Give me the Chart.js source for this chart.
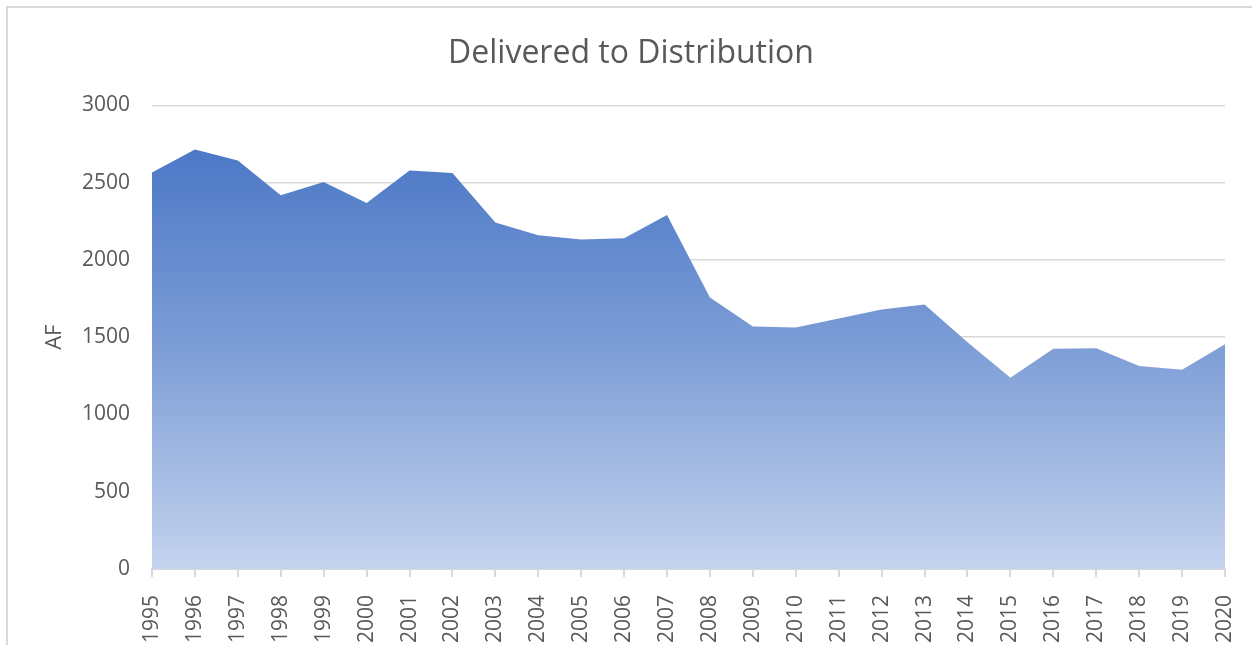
<!DOCTYPE html>
<html>
<head>
<meta charset="utf-8">
<script src="https://cdn.jsdelivr.net/npm/chart.js@4"></script>
<style>
body{margin:0;background:#fff}
#wrap{position:relative;width:1252px;height:645px}
#frame{position:absolute;left:6px;top:6px;right:0;bottom:0;border-left:2px solid #d9d9d9;border-top:2px solid #d9d9d9}
</style>
</head>
<body>
<div id="wrap">
<canvas id="chart" width="1252" height="645"></canvas>
<div id="frame"></div>
</div>
<script>
// chart data
let years=["1995","1996","1997","1998","1999","2000","2001","2002","2003","2004","2005","2006","2007","2008","2009","2010","2011","2012","2013","2014","2015","2016","2017","2018","2019","2020"]
let delivered=[2565,2714,2644,2418,2504,2368,2578,2562,2243,2160,2132,2140,2291,1757,1569,1562,1621,1679,1711,1468,1237,1425,1429,1313,1289,1455]
let yTicks=[0,500,1000,1500,2000,2500,3000]

let grey="#595959"

function areaFill(ctx){
let area=ctx.chart.chartArea
if(!area) return "#4472C4"
let g=ctx.chart.ctx.createLinearGradient(0,area.top,0,area.bottom)
g.addColorStop(0,"#4270C3")
g.addColorStop(0.5,"#7a9bd5")
g.addColorStop(1,"#c4d3ee")
return g
}

new Chart(document.getElementById("chart"),{
type:"line",
data:{
labels:years,
datasets:[{
label:"Delivered",
data:delivered,
fill:"origin",
backgroundColor:areaFill,
borderWidth:0,
pointRadius:0,
tension:0
}]
},
options:{
responsive:false,
animation:false,
layout:{padding:{left:37,right:27,top:0,bottom:0}},
plugins:{
legend:{display:false},
tooltip:{enabled:false},
title:{
display:true,
text:"Delivered to Distribution",
color:grey,
font:{family:"Open Sans",size:32,weight:"normal",lineHeight:1.2},
padding:{top:35,bottom:32}
}
},
scales:{
x:{
offset:false,
grid:{display:true,drawOnChartArea:false,drawTicks:true,tickLength:8,color:"#d9d9d9",lineWidth:2},
border:{display:true,color:"#d9d9d9",width:2},
ticks:{color:grey,font:{family:"Open Sans",size:21},minRotation:90,maxRotation:90,padding:18,autoSkip:false},
afterFit:s=>{s.height=76;s.paddingLeft=0;s.paddingRight=0}
},
y:{
min:0,
max:3000,
afterBuildTicks:s=>{s.ticks=yTicks.map(v=>({value:v}))},
grid:{color:"#d9d9d9",lineWidth:1.5,drawTicks:false},
border:{display:false},
ticks:{color:grey,font:{family:"Open Sans",size:21},padding:22,callback:v=>String(v)},
title:{display:true,text:"AF",color:grey,font:{family:"Open Sans",size:22},padding:{top:5,bottom:0}},
afterFit:s=>{s.width=115}
}
}
}
})
</script>
</body>
</html>
